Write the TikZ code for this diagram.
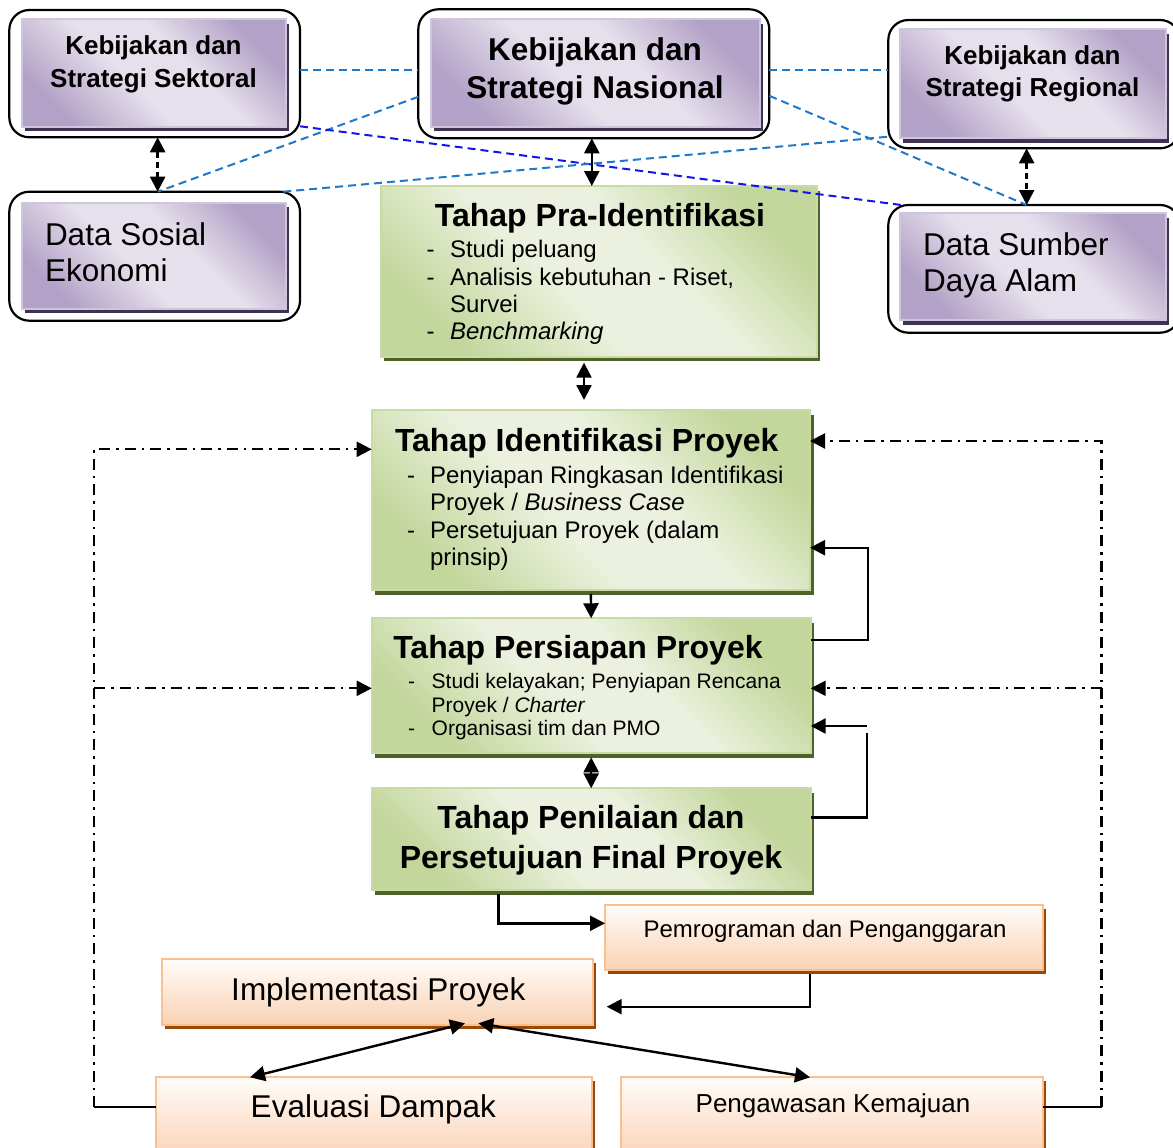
\documentclass[tikz,border=0pt]{standalone}
\usepackage{fontspec}
\setmainfont{Liberation Sans}
\usetikzlibrary{arrows.meta,shadows,calc}

\definecolor{plight}{HTML}{E6E0EC}
\definecolor{pdark}{HTML}{B3A2C7}
\definecolor{pborder}{HTML}{CFC5DD}
\definecolor{pshadow}{HTML}{3F3151}
\definecolor{glight}{HTML}{EBF1DE}
\definecolor{gdark}{HTML}{C3D69B}
\definecolor{gborder}{HTML}{C9DBA5}
\definecolor{gshadow}{HTML}{4F6228}
\definecolor{olight}{HTML}{FFFCF9}
\definecolor{odark}{HTML}{FAD2B4}
\definecolor{oborder}{HTML}{FAC090}
\definecolor{oshadow}{HTML}{984807}
\definecolor{lblue}{HTML}{1F78C8}
\definecolor{dblue}{HTML}{1414E6}

\pgfdeclarehorizontalshading{purpsh}{100bp}{color(0bp)=(pdark); color(25bp)=(pdark); color(44bp)=(plight); color(58bp)=(plight); color(75bp)=(pdark); color(100bp)=(pdark)}
\pgfdeclarehorizontalshading{greensh}{100bp}{color(0bp)=(gdark); color(25bp)=(gdark); color(44bp)=(glight); color(58bp)=(glight); color(75bp)=(gdark); color(100bp)=(gdark)}

\begin{document}
\begin{tikzpicture}[x=1pt,y=-1pt,
  outerframe/.style={draw=black, line width=2.2pt, rounded corners=20pt, fill=white, inner sep=0pt, outer sep=0pt},
  pbox/.style={draw=pborder, line width=1.8pt, shading=purpsh, shading angle=45,
    drop shadow={shadow xshift=3pt,shadow yshift=-4.5pt,fill=pshadow,opacity=1}, inner sep=0pt, outer sep=0pt},
  gbox/.style={draw=gborder, line width=1.8pt, shading=greensh, shading angle=45,
    drop shadow={shadow xshift=3.5pt,shadow yshift=-4.5pt,fill=gshadow,opacity=1}, inner sep=0pt, outer sep=0pt},
  obox/.style={draw=oborder, line width=1.8pt, top color=olight, bottom color=odark,
    drop shadow={shadow xshift=3pt,shadow yshift=-4pt,fill=oshadow,opacity=1}, inner sep=0pt, outer sep=0pt},
  txt/.style={inner sep=0pt, outer sep=0pt},
  ttl/.style={txt, font=\fontsize{32}{38}\selectfont\bfseries},
  bul/.style={txt, anchor=base west, font=\fontsize{24}{28}\selectfont},
  bulS/.style={txt, anchor=base west, font=\fontsize{21}{24}\selectfont},
  conn/.style={line width=2.4pt, draw=black},
  tip/.tip={Triangle[length=15pt,width=15pt]},
  arr/.style={conn, -tip},
  dbl/.style={conn, tip-tip},
  ddash/.style={line width=2.2pt, dash pattern=on 11pt off 6pt on 2.5pt off 6pt},
  bdash/.style={draw=lblue, line width=2pt, dash pattern=on 8pt off 5pt},
  dbdash/.style={draw=dblue, line width=2pt, dash pattern=on 8pt off 5pt},
]
\useasboundingbox (0,0) rectangle (1173,1148);
\fill[white] (0,0) rectangle (1173,1148);
\clip (0,0) rectangle (1173,1148);

% ---------- top frames ----------
\node[outerframe, minimum width=290.7pt, minimum height=127.3pt] (sekF) at (154.65,73.65) {};
\node[outerframe, minimum width=351pt, minimum height=129pt] (nasF) at (593.8,73.8) {};
\node[outerframe, minimum width=291.7pt, minimum height=128.3pt] (regF) at (1034.15,84.15) {};
\node[outerframe, minimum width=290.7pt, minimum height=129pt] (sosF) at (154.65,256.2) {};
\node[outerframe, minimum width=291.7pt, minimum height=127.7pt] (sdaF) at (1034.15,268.85) {};

\node[pbox, minimum width=264.3pt, minimum height=107.4pt] (sekI) at (153.85,73) {};
\node[pbox, minimum width=329.3pt, minimum height=107.4pt] (nasI) at (595.35,73) {};
\node[pbox, minimum width=266pt, minimum height=109pt] (regI) at (1033,83.8) {};
\node[pbox, minimum width=264.3pt, minimum height=106pt] (sosI) at (153.85,255.8) {};
\node[pbox, minimum width=266pt, minimum height=106.7pt] (sdaI) at (1033,266.65) {};

\node[txt, anchor=base, font=\fontsize{26}{31}\selectfont\bfseries] (tSek1) at (153.5,55) {Kebijakan dan};
\node[txt, anchor=base, font=\fontsize{26}{31}\selectfont\bfseries] (tSek2) at (153.5,87.3) {Strategi Sektoral};
\node[txt, anchor=base, font=\fontsize{31.5}{37}\selectfont\bfseries] (tNas1) at (595,60) {Kebijakan dan};
\node[txt, anchor=base, font=\fontsize{31.5}{37}\selectfont\bfseries] (tNas2) at (595,98.3) {Strategi Nasional};
\node[txt, anchor=base, font=\fontsize{26}{31}\selectfont\bfseries] (tReg1) at (1032.5,65) {Kebijakan dan};
\node[txt, anchor=base, font=\fontsize{26}{31}\selectfont\bfseries] (tReg2) at (1032.5,96.7) {Strategi Regional};
\node[txt, anchor=base west, font=\fontsize{31.5}{37}\selectfont] (tSos1) at (45,245) {Data Sosial};
\node[txt, anchor=base west, font=\fontsize{31.5}{37}\selectfont] (tSos2) at (45,281.7) {Ekonomi};
\node[txt, anchor=base west, font=\fontsize{31.5}{37}\selectfont] (tSda1) at (923,255) {Data Sumber};
\node[txt, anchor=base west, font=\fontsize{31.5}{37}\selectfont] (tSda2) at (923,291.7) {Daya Alam};

% ---------- green boxes ----------
\node[gbox, minimum width=436pt, minimum height=170.7pt] (praB) at (598.7,271.35) {};
\node[gbox, minimum width=438.3pt, minimum height=180pt] (idB) at (590.85,500) {};
\node[gbox, minimum width=439pt, minimum height=135pt] (peB) at (591.2,685.8) {};
\node[gbox, minimum width=439pt, minimum height=101.7pt] (pnB) at (591.2,839.15) {};

\node[ttl, anchor=base] (tPra) at (600,226.7) {Tahap Pra-Identifikasi};
\node[bul] (dPra1) at (426.7,257.3) {-};
\node[bul] (bPra1) at (450,257.3) {Studi peluang};
\node[bul] (dPra2) at (426.7,285) {-};
\node[bul] (bPra2) at (450,285) {Analisis kebutuhan - Riset,};
\node[bul] (bPra3) at (450,312.7) {Survei};
\node[bul] (dPra4) at (426.7,339.3) {-};
\node[bul] (bPra4) at (450,339.3) {\itshape Benchmarking};

\node[ttl, anchor=base west] (tId) at (395,451.7) {Tahap Identifikasi Proyek};
\node[bul] (dId1) at (407,483.3) {-};
\node[bul] (bId1) at (430,483.3) {Penyiapan Ringkasan Identifikasi};
\node[bul] (bId2) at (430,510.8) {Proyek / \textit{Business Case}};
\node[bul] (dId3) at (407,538.3) {-};
\node[bul] (bId3) at (430,538.3) {Persetujuan Proyek (dalam};
\node[bul] (bId4) at (430,565.8) {prinsip)};

\node[ttl, anchor=base west] (tPe) at (393.3,658.3) {Tahap Persiapan Proyek};
\node[bulS] (dPe1) at (408,688.3) {-};
\node[bulS] (bPe1) at (431.7,688.3) {Studi kelayakan; Penyiapan Rencana};
\node[bulS] (bPe2) at (431.7,712.3) {Proyek / \textit{Charter}};
\node[bulS] (dPe3) at (408,735) {-};
\node[bulS] (bPe3) at (431.7,735) {Organisasi tim dan PMO};

\node[ttl, anchor=base] (tPn1) at (591,828.3) {Tahap Penilaian dan};
\node[ttl, anchor=base] (tPn2) at (591,868.3) {Persetujuan Final Proyek};

% ---------- orange boxes ----------
\node[obox, minimum width=438pt, minimum height=65pt] (pgB) at (824,937.5) {};
\node[obox, minimum width=431.6pt, minimum height=66pt] (imB) at (377.5,992) {};
\node[obox, minimum width=435.7pt, minimum height=82.7pt] (evB) at (373.85,1118.65) {};
\node[obox, minimum width=422pt, minimum height=82.7pt] (pwB) at (832,1118.65) {};

\node[txt, anchor=base, font=\fontsize{24}{28}\selectfont] (tPg) at (825,937.7) {Pemrograman dan Penganggaran};
\node[txt, anchor=base, font=\fontsize{31.5}{37}\selectfont] (tIm) at (378.3,1000) {Implementasi Proyek};
\node[txt, anchor=base, font=\fontsize{31.5}{37}\selectfont] (tEv) at (373.3,1117.7) {Evaluasi Dampak};
\node[txt, anchor=base, font=\fontsize{26}{30}\selectfont] (tPw) at (833,1112.7) {Pengawasan Kemajuan};

% ---------- blue dashed links ----------
\draw[bdash] ([yshift=4pt]sekF.east) -- ([yshift=4pt]sekF.east -| nasF.west);
\draw[bdash] ([yshift=4pt]nasF.east) -- ([yshift=4pt]nasF.east -| regF.west);
\draw[bdash] ([yshift=-23pt]nasF.west) -- ([xshift=3pt]sosF.north);
\draw[dbdash] ([yshift=11pt]sekF.south east) -- ([xshift=13pt]sdaF.north west);
\draw[bdash] ([xshift=-16.7pt]sosF.north east) -- ([yshift=11.6pt]regF.south west);
\draw[bdash] ([yshift=-22pt]nasF.east) -- ([xshift=-7.5pt]sdaF.north);

% ---------- black connectors ----------
\draw[dbl, dash pattern=on 6pt off 4pt] ([xshift=3pt]sekF.south) -- ([xshift=3pt]sosF.north);
\draw[dbl, dash pattern=on 6pt off 4pt] ([xshift=-7.5pt]regF.south) -- ([xshift=-7.5pt]sdaF.north);
\draw[dbl] ([xshift=-2pt]nasF.south) -- ([xshift=-2pt]nasF.south |- praB.north);
\draw[dbl] ([xshift=-14.7pt,yshift=-6pt]praB.south) -- ([xshift=-6.85pt,yshift=10pt]idB.north);
\draw[arr] ([yshift=-4pt]idB.south) -- (peB.north);
\draw[dbl] ([yshift=-4pt]peB.south) -- (pnB.north);

\draw[arr] ([yshift=45.8pt]peB.east) -- ++(57.5,0) |- ([yshift=-47.7pt]idB.east);
\coordinate (pnR) at ([yshift=21.85pt]pnB.east);
\draw[conn] (pnR) -- ++(56,0) -- ++(0,-84.3);
\draw[arr] ([xshift=56pt,yshift=-40.2pt]peB.east) -- ([yshift=-40.2pt]peB.east);

\draw[arr] ([xshift=-92.9pt,yshift=-4pt]pnB.south) |- ([yshift=14.2pt]pgB.west);
\draw[arr] ([xshift=-14pt,yshift=-4pt]pgB.south) |- ([xshift=13.4pt,yshift=-14.7pt]imB.east);

\draw[dbl] ([xshift=87.5pt,yshift=1.7pt]imB.south) -- ([xshift=-123.85pt]evB.north);
\draw[dbl] ([xshift=100.8pt,yshift=1.7pt]imB.south) -- ([xshift=-22pt]pwB.north);

% ---------- dash-dot feedback ----------
\draw[line width=2pt] ([yshift=11.35pt]evB.west) -- ++(-61.7,0) coordinate (lc);
\coordinate (idL) at ([yshift=50.7pt]idB.west);
\coordinate (peL) at ([yshift=-2.5pt]peB.west);
\draw[ddash, -tip] (lc) |- (idL);
\draw[ddash, -tip] (lc |- peL) -- (peL);

\draw[line width=2pt] ([yshift=11.35pt]pwB.east) -- ++(58.5,0) coordinate (rc);
\coordinate (idR) at ([yshift=59pt]idB.east);
\coordinate (peR) at ([yshift=-2.5pt]peB.east);
\draw[ddash, -tip] (rc) |- (idR);
\draw[ddash, -tip] (rc |- peR) -- (peR);
\end{tikzpicture}
\end{document}
